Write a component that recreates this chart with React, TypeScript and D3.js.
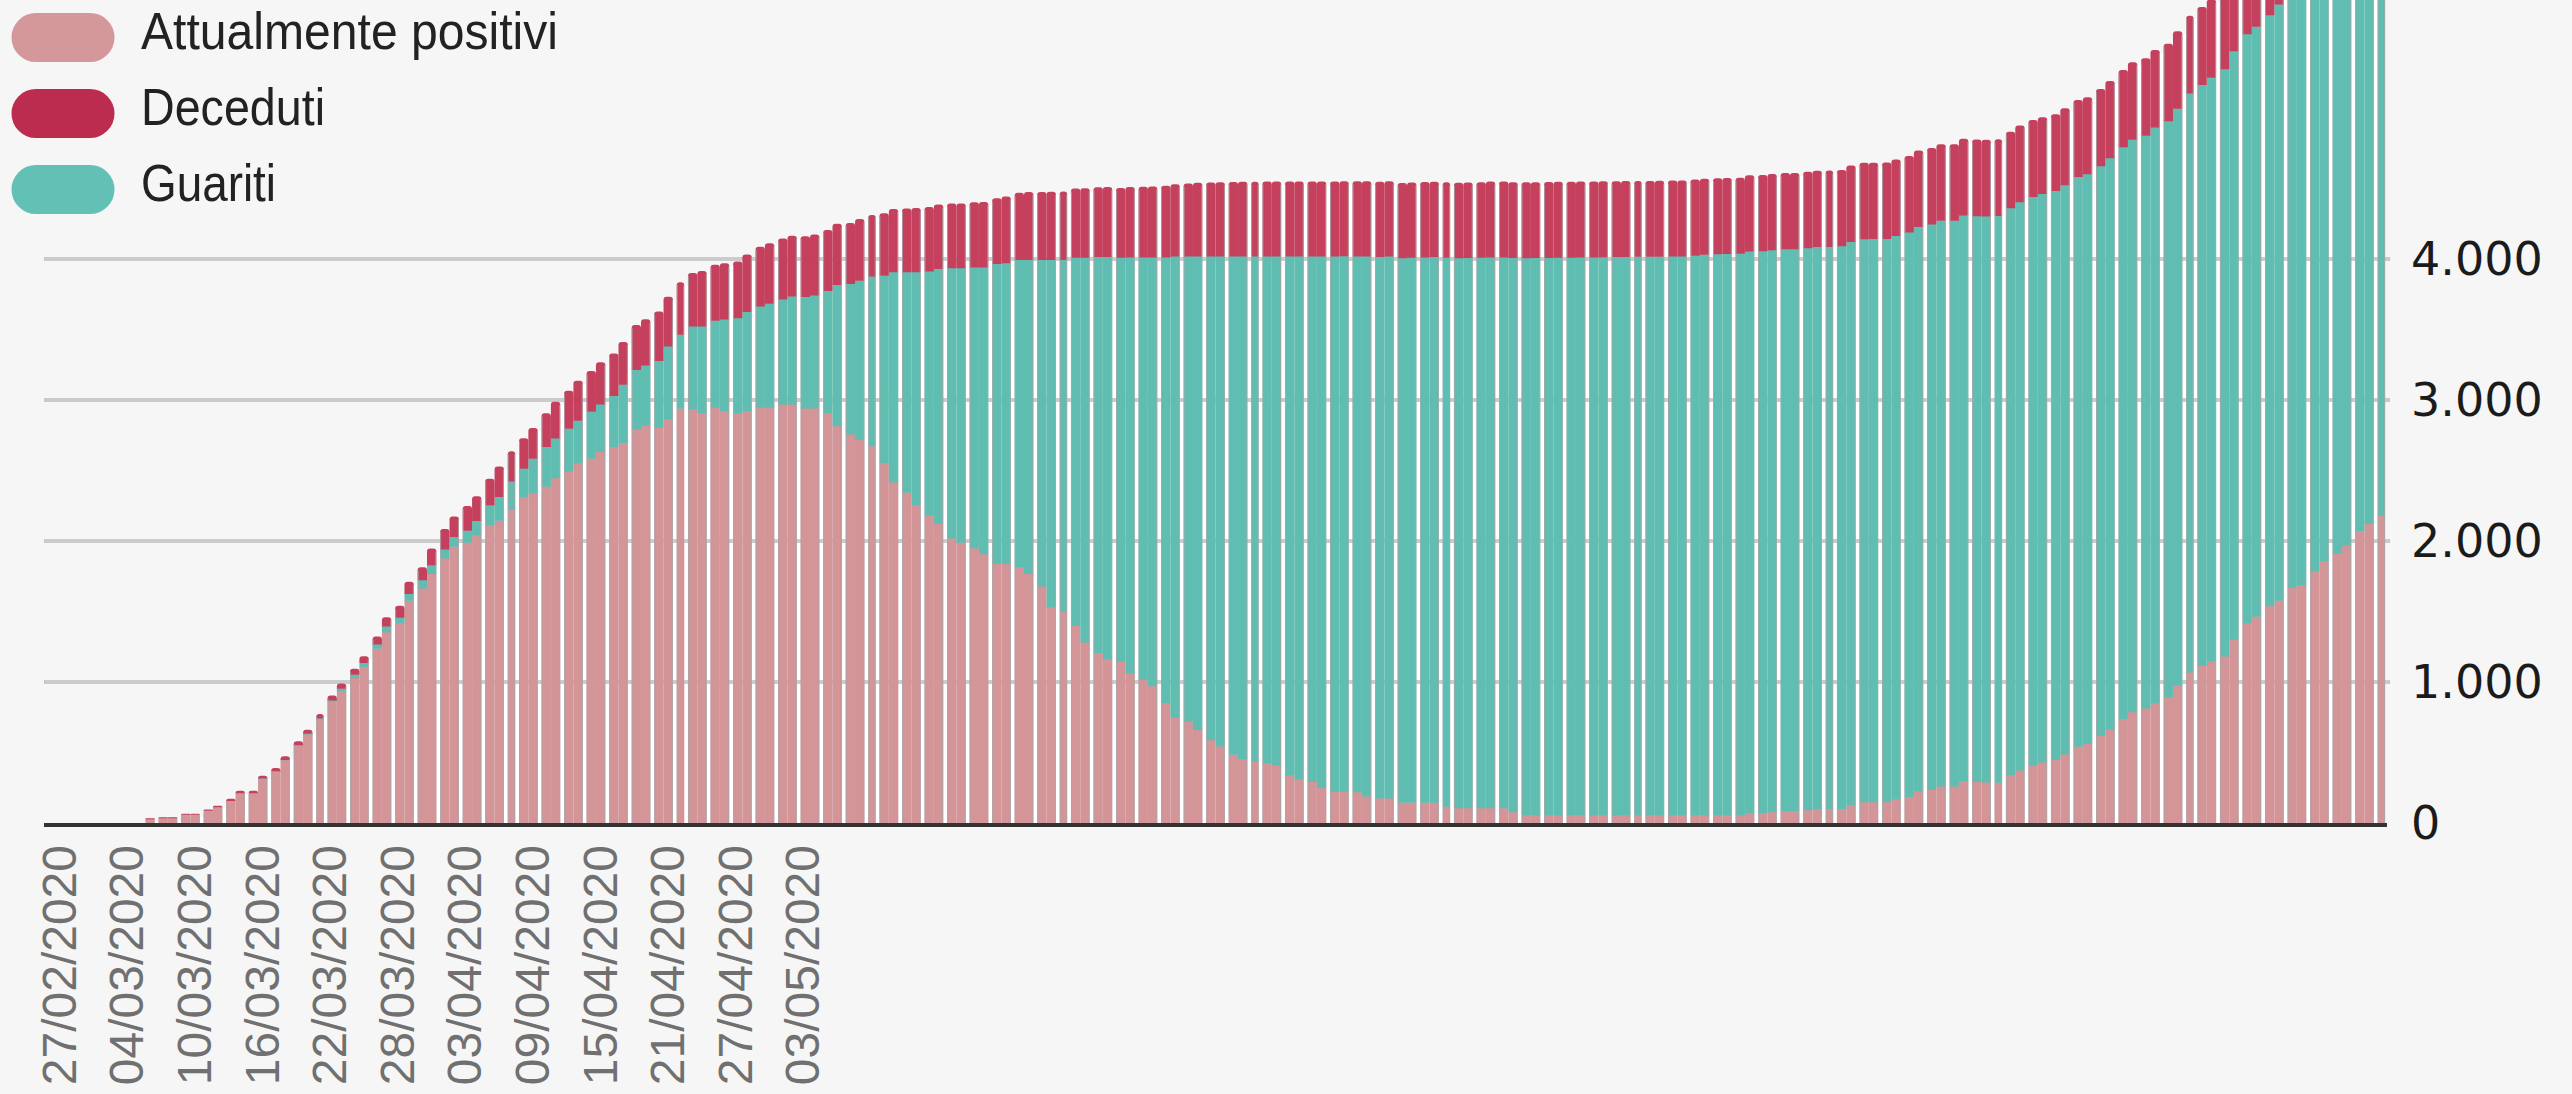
import React, { useEffect, useRef } from 'react';
import * as d3 from 'd3';

const W = 2572;
const H = 1094;

// one bar per day, 27/02/2020 -> 21/09/2020
const startDate = new Date(2020, 1, 27);
const days = d3.timeDay.range(startDate, d3.timeDay.offset(startDate, 208));
const dayLabels = days.map(d3.timeFormat('%d/%m/%Y'));

const tickLabels = [
  '27/02/2020', '04/03/2020', '10/03/2020', '16/03/2020', '22/03/2020', '28/03/2020',
  '03/04/2020', '09/04/2020', '15/04/2020', '21/04/2020', '27/04/2020', '03/05/2020',
];

const yTicks = [0, 1000, 2000, 3000, 4000];

const positivi = [
  0, 0, 0, 0, 0, 0, 0, 0, 0, 30,
  37, 37, 62, 62, 90, 116, 160, 215, 215, 318,
  368, 448, 552, 632, 740, 865, 940, 1030, 1110, 1239,
  1357, 1416, 1580, 1667, 1770, 1879, 1962, 1991, 2044, 2115,
  2147, 2227, 2316, 2339, 2389, 2448, 2499, 2552, 2587, 2634,
  2670, 2699, 2794, 2823, 2808, 2867, 2941, 2935, 2912, 2950,
  2920, 2906, 2926, 2950, 2950, 2971, 2971, 2944, 2944, 2912,
  2817, 2758, 2720, 2676, 2552, 2419, 2345, 2257, 2183, 2124,
  2021, 1991, 1953, 1909, 1844, 1844, 1814, 1770, 1681, 1534,
  1504, 1401, 1283, 1209, 1165, 1150, 1062, 1018, 973, 855,
  752, 723, 664, 590, 546, 487, 457, 442, 428, 413,
  339, 310, 295, 251, 227, 227, 221, 192, 177, 177,
  147, 147, 147, 147, 118, 109, 109, 109, 109, 109,
  80, 59, 59, 59, 59, 59, 59, 59, 59, 59,
  59, 59, 59, 59, 59, 59, 59, 59, 59, 59,
  59, 74, 74, 80, 88, 88, 94, 102, 102, 102,
  132, 150, 150, 150, 169, 188, 226, 237, 263, 263,
  301, 295, 290, 289, 338, 376, 414, 432, 451, 489,
  545, 564, 620, 665, 741, 789, 816, 853, 891, 977,
  1071, 1117, 1147, 1184, 1305, 1417, 1466, 1541, 1579, 1673,
  1692, 1786, 1861, 1917, 1974, 2075, 2124, 2180,
];

const guariti = [
  0, 0, 0, 0, 0, 0, 0, 0, 0, 0,
  0, 0, 0, 0, 0, 0, 0, 0, 0, 1,
  2, 3, 3, 4, 5, 8, 15, 25, 28, 30,
  40, 44, 48, 59, 62, 65, 70, 85, 101, 142,
  169, 198, 200, 248, 281, 283, 300, 305, 333, 337,
  362, 413, 422, 425, 472, 516, 525, 590, 613, 615,
  655, 678, 702, 717, 737, 746, 766, 790, 800, 864,
  1003, 1068, 1130, 1203, 1333, 1490, 1564, 1652, 1732, 1808,
  1917, 1947, 1991, 2035, 2124, 2130, 2183, 2227, 2316, 2463,
  2493, 2611, 2729, 2809, 2853, 2862, 2953, 2997, 3042, 3160,
  3269, 3298, 3357, 3431, 3475, 3534, 3564, 3579, 3593, 3608,
  3682, 3711, 3726, 3770, 3794, 3796, 3800, 3829, 3840, 3844,
  3862, 3866, 3868, 3870, 3895, 3900, 3902, 3903, 3905, 3906,
  3930, 3950, 3951, 3952, 3953, 3954, 3955, 3956, 3957, 3958,
  3959, 3960, 3960, 3961, 3962, 3963, 3968, 3975, 3978, 3980,
  3982, 3983, 3984, 3985, 3985, 3985, 3986, 3986, 3987, 3992,
  3993, 3994, 3995, 3996, 3997, 4004, 4005, 4011, 4011, 4011,
  4011, 4012, 4015, 4020, 4025, 4030, 4030, 4032, 4035, 4038,
  4040, 4041, 4042, 4053, 4055, 4061, 4062, 4083, 4090, 4092,
  4106, 4120, 4142, 4166, 4172, 4180, 4185, 4192, 4229, 4240,
  4255, 4270, 4285, 4300, 4315, 4330, 4345, 4360,
];

const deceduti = [
  0, 0, 0, 0, 0, 0, 0, 0, 0, 3,
  3, 3, 4, 4, 5, 7, 12, 14, 14, 16,
  20, 22, 24, 26, 28, 32, 35, 39, 44, 53,
  63, 80, 83, 88, 115, 141, 142, 172, 172, 185,
  212, 212, 213, 215, 236, 256, 266, 280, 285, 297,
  297, 300, 316, 324, 348, 349, 369, 375, 390, 395,
  395, 398, 404, 419, 425, 428, 428, 428, 430, 430,
  430, 430, 433, 433, 440, 445, 450, 452, 454, 454,
  456, 456, 458, 460, 462, 470, 472, 478, 478, 480,
  482, 488, 490, 490, 492, 492, 495, 497, 500, 505,
  510, 515, 520, 522, 524, 525, 526, 527, 528, 528,
  528, 529, 529, 529, 529, 529, 530, 530, 530, 530,
  530, 530, 531, 531, 531, 531, 532, 532, 535, 535,
  535, 535, 535, 535, 535, 535, 535, 535, 535, 535,
  535, 535, 535, 535, 535, 535, 536, 536, 536, 536,
  536, 537, 537, 537, 537, 537, 538, 538, 538, 538,
  538, 538, 538, 539, 539, 539, 539, 539, 540, 540,
  540, 540, 540, 540, 540, 541, 541, 541, 541, 542,
  543, 543, 543, 544, 544, 545, 545, 546, 546, 547,
  548, 550, 551, 552, 553, 554, 555, 556, 557, 558,
  559, 560, 561, 562, 563, 564, 565, 566,
];

const seriesKeys = ['positivi', 'guariti', 'deceduti'];
const seriesNames = ['Attualmente positivi', 'Deceduti', 'Guariti'];

const barColors: Record<string, string> = {
  positivi: '#d39598',
  guariti: '#5fbdb1',
  deceduti: '#c5405c',
};
const legendColors = ['#d4979a', '#bc2c4f', '#62c0b4'];
const legendTextWidths = [417, 184, 135];

const itFormat = d3.formatLocale({ decimal: ',', thousands: '.', grouping: [3], currency: ['€', ''] }).format(',');

// rect with rounded top corners only
const topRounded = (x0: number, x1: number, yt: number, yb: number, r: number) => {
  const rr = Math.max(0, Math.min(r, (x1 - x0) / 2, yb - yt));
  return `M${x0},${yb}L${x0},${yt + rr}Q${x0},${yt} ${x0 + rr},${yt}L${x1 - rr},${yt}Q${x1},${yt} ${x1},${yt + rr}L${x1},${yb}Z`;
};

const App: React.FC = () => {
  const svgRef = useRef<SVGSVGElement>(null);

  useEffect(() => {
    if (!svgRef.current) return;
    const svg = d3.select(svgRef.current);
    svg.selectAll('*').remove();

    const left = 44;
    const right = 2387;
    const base = 823;
    const n = days.length;

    const x = d3.scaleBand<number>().domain(d3.range(n)).range([left, right]).padding(0);
    const y = d3.scaleLinear().domain([0, 4000]).range([base, 259]);
    const step = x.step();

    const rows = days.map((_, i) => ({
      positivi: positivi[i],
      guariti: guariti[i],
      deceduti: deceduti[i],
    }));
    const stacked = d3.stack<any>().keys(seriesKeys)(rows);
    const totals = rows.map(r => r.positivi + r.guariti + r.deceduti);

    svg.append('rect').attr('width', W).attr('height', H).attr('fill', '#f6f6f6');

    // bars are drawn in columns of (mostly) two days with a thin white gap between them
    const period = 1.887;
    const phase = 0.38;
    const starts = new Set<number>([0]);
    for (let k = 0; k * period + phase < n; k++) starts.add(Math.ceil(k * period + phase));
    const inset = 1.9;
    const isStart = (i: number) => starts.has(i);
    const isEnd = (i: number) => starts.has(i + 1) || i === n - 1;
    const bx0 = (i: number) => (x(i) as number) + (isStart(i) ? inset : 0);
    const bx1 = (i: number) => (x(i) as number) + step - (isEnd(i) ? inset : 0);

    const gaps = Array.from(starts).filter(i => i > 0 && i < n);
    svg.append('g')
      .selectAll('rect')
      .data(gaps)
      .enter()
      .append('rect')
      .attr('x', i => (x(i) as number) - inset - 0.5)
      .attr('width', inset * 2 + 1)
      .attr('y', i => Math.max(y(totals[i - 1]), y(totals[i])) + 3)
      .attr('height', i => Math.max(0, base - Math.max(y(totals[i - 1]), y(totals[i])) - 3))
      .attr('fill', '#ffffff');

    // gridlines
    const grid = svg.append('g');
    yTicks.filter(v => v > 0).forEach(v => {
      grid.append('line')
        .attr('x1', left).attr('x2', right + 3)
        .attr('y1', y(v)).attr('y2', y(v))
        .attr('stroke', '#bdbdbd').attr('stroke-width', 3.5);
      grid.append('line')
        .attr('x1', left + 1).attr('x2', right + 2)
        .attr('y1', y(v)).attr('y2', y(v))
        .attr('stroke', '#dadada').attr('stroke-width', 1.2);
    });

    // stacked bars, the top segment of every day gets rounded corners
    stacked.forEach((layer, li) => {
      const items = layer
        .map((d, i) => ({ d, i }))
        .filter(o => o.d[1] > o.d[0]);
      const isTop = (o: { d: any; i: number }) => Math.abs(o.d[1] - totals[o.i]) < 1e-9;
      svg.append('g')
        .selectAll('path')
        .data(items)
        .enter()
        .append('path')
        .attr('d', o => topRounded(bx0(o.i), bx1(o.i), y(o.d[1]), y(o.d[0]) + (li > 0 ? 0.5 : 0), isTop(o) ? 3 : 0))
        .attr('fill', barColors[layer.key]);
    });

    // grey edges of the columns
    const edges: { xe: number; top: number }[] = [];
    d3.range(n).forEach(i => {
      if (totals[i] <= 0) return;
      if (isStart(i)) edges.push({ xe: bx0(i) + 0.5, top: y(totals[i]) });
      if (isEnd(i)) edges.push({ xe: bx1(i) - 0.5, top: y(totals[i]) });
    });
    svg.append('g')
      .selectAll('line')
      .data(edges)
      .enter()
      .append('line')
      .attr('x1', e => e.xe).attr('x2', e => e.xe)
      .attr('y1', e => e.top + 3).attr('y2', base)
      .attr('stroke', '#a8a8a8')
      .attr('stroke-opacity', 0.8)
      .attr('stroke-width', 1);

    // baseline
    svg.append('line')
      .attr('x1', left).attr('x2', right)
      .attr('y1', base + 2).attr('y2', base + 2)
      .attr('stroke', '#333333')
      .attr('stroke-width', 4);

    // y labels on the right
    svg.append('g')
      .selectAll('text')
      .data(yTicks)
      .enter()
      .append('text')
      .attr('x', 2411)
      .attr('y', v => y(v))
      .attr('dominant-baseline', 'central')
      .attr('font-family', '"DejaVu Sans", Verdana, sans-serif')
      .attr('font-size', 46)
      .attr('fill', '#1b1b1b')
      .text(v => itFormat(v));

    // x labels, rotated
    const fs = 48;
    svg.append('g')
      .selectAll('text')
      .data(tickLabels)
      .enter()
      .append('text')
      .attr('transform', t => {
        const i = dayLabels.indexOf(t);
        const cx = (x(i) as number) + step / 2 + 9 + fs * 0.358;
        return `translate(${cx},845) rotate(-90)`;
      })
      .attr('text-anchor', 'end')
      .attr('font-family', '"Liberation Sans", Arial, sans-serif')
      .attr('font-size', fs)
      .attr('fill', '#707070')
      .text(t => t);

    // legend
    const legend = svg.append('g');
    seriesNames.forEach((name, k) => {
      const cy = 37.5 + k * 76;
      legend.append('rect')
        .attr('x', 11.5).attr('y', cy - 24.5)
        .attr('width', 103).attr('height', 49)
        .attr('rx', 24.5)
        .attr('fill', legendColors[k]);
      legend.append('text')
        .attr('x', 141).attr('y', cy + 11)
        .attr('font-family', '"Liberation Sans Narrow", "Liberation Sans", Arial, sans-serif')
        .attr('font-size', 52)
        .attr('fill', '#222222')
        .attr('textLength', legendTextWidths[k])
        .attr('lengthAdjust', 'spacingAndGlyphs')
        .text(name);
    });
  }, []);

  return (
    <div style={{ position: 'absolute', left: 0, top: 0, width: W, height: H, background: '#f6f6f6' }}>
      <svg ref={svgRef} width={W} height={H} style={{ display: 'block' }} />
    </div>
  );
};

export default App;
